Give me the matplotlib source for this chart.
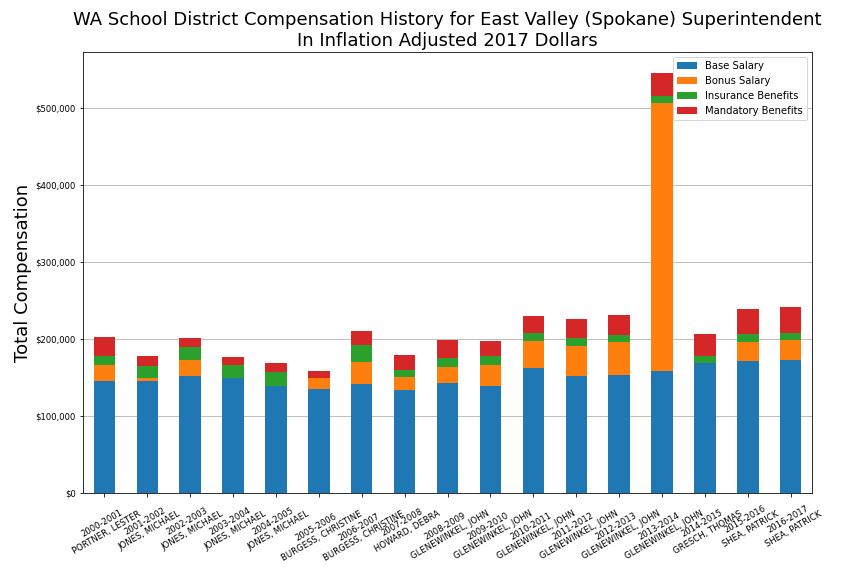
import matplotlib
matplotlib.use("Agg")
import numpy as np
import pandas as pd
from matplotlib import pyplot as plt
from matplotlib.ticker import FuncFormatter

years = [
    "2000-2001", "2001-2002", "2002-2003", "2003-2004", "2004-2005", "2005-2006",
    "2006-2007", "2007-2008", "2008-2009", "2009-2010", "2010-2011", "2011-2012",
    "2012-2013", "2013-2014", "2014-2015", "2015-2016", "2016-2017",
]
names = [
    "PORTNER, LESTER", "JONES, MICHAEL", "JONES, MICHAEL", "JONES, MICHAEL",
    "JONES, MICHAEL", "BURGESS, CHRISTINE", "BURGESS, CHRISTINE", "HOWARD, DEBRA",
    "GLENEWINKEL, JOHN", "GLENEWINKEL, JOHN", "GLENEWINKEL, JOHN", "GLENEWINKEL, JOHN",
    "GLENEWINKEL, JOHN", "GLENEWINKEL, JOHN", "GRESCH, THOMAS", "SHEA, PATRICK",
    "SHEA, PATRICK",
]

# values in thousands of 2017 dollars
base_salary = [145.5, 145.5, 152.4, 149.8, 139.4, 135.1, 142.0, 134.2, 142.9,
               139.0, 162.3, 151.9, 153.2, 158.4, 168.8, 171.4, 172.7]
bonus_salary = [20.7, 3.8, 20.3, 0.0, 0.0, 14.2, 28.1, 16.4, 20.7,
                27.2, 35.1, 39.0, 42.9, 348.1, 0.0, 24.7, 26.4]
insurance = [12.1, 16.0, 16.9, 16.4, 18.2, 0.0, 22.1, 9.1, 11.7,
             11.7, 10.0, 10.4, 9.1, 9.5, 9.1, 10.4, 8.3]
mandatory = [24.3, 12.6, 11.7, 10.4, 11.2, 9.1, 18.2, 19.5, 23.8,
             19.5, 22.5, 24.7, 26.0, 29.5, 28.6, 32.5, 34.2]

labels = [f"{y}\n{n}" for y, n in zip(years, names)]

df = pd.DataFrame(
    {
        "Base Salary": base_salary,
        "Bonus Salary": bonus_salary,
        "Insurance Benefits": insurance,
        "Mandatory Benefits": mandatory,
    },
    index=labels,
) * 1000

fig, ax = plt.subplots(figsize=(12, 8), dpi=72)
fig.subplots_adjust(left=0.096, right=0.94, top=0.91, bottom=0.144)

df.plot(kind="bar", stacked=True, ax=ax, width=0.5, rot=30, zorder=3)

# horizontal gridlines only
ax.yaxis.grid(True, color="#bfbfbf", linewidth=1, zorder=0)
ax.set_axisbelow(True)
ax.yaxis.set_major_formatter(FuncFormatter(lambda v, _: f"${v:,.0f}"))
ax.tick_params(axis="y", labelsize=8.5)
ax.tick_params(axis="x", labelsize=8.5)
for lbl in ax.get_xticklabels():
    lbl.set_horizontalalignment("center")

ax.set_ylabel("Total Compensation", fontsize=18)
ax.set_title(
    "WA School District Compensation History for East Valley (Spokane) Superintendent\n"
    "In Inflation Adjusted 2017 Dollars",
    fontsize=18,
)
ax.legend(loc="upper right", fontsize=10)

fig.savefig("out.png", dpi=72)
